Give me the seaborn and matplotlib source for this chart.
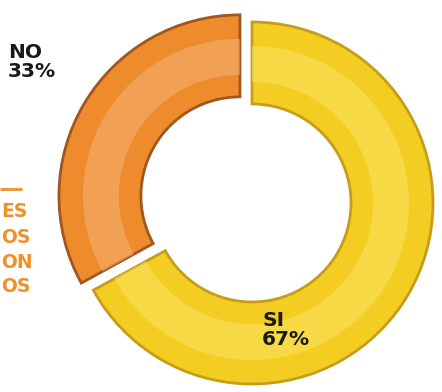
import matplotlib
matplotlib.use("Agg")
import matplotlib.pyplot as plt
import seaborn as sns

categories = ["SI", "NO"]
values = [67, 33]
labels = ["SI\n67%", "NO\n33%"]
side_text = ["ES", "OS", "ON", "OS"]

sns.set_theme(style="white")
plt.rcParams['font.family'] = ['DejaVu Sans']

colors = ["#F4CD22", "#EE8B2D"]
edges = ["#C59D18", "#A0561F"]

fig = plt.figure(figsize=(4.42, 3.92), dpi=100)
ax = fig.add_axes([0, 0, 1, 1])

cx, cy, R = 252, 189, 181
width = 82
expl = 14
wedges, _ = ax.pie(values, colors=colors, startangle=90, counterclock=False,
                   explode=[0, expl], center=(cx, cy), radius=R,
                   wedgeprops=dict(width=width, linewidth=2))
for w, e in zip(wedges, edges):
    w.set_edgecolor(e)
# highlight band for a soft 3D look
hl = ["#FBE66A", "#F7B57A"]
ax.pie(values, colors=hl, startangle=90, counterclock=False,
       explode=[0, expl], center=(cx, cy), radius=R - 24,
       wedgeprops=dict(width=width - 46, linewidth=0, alpha=0.5))
ax.set_xlim(0, 442)
ax.set_ylim(0, 392)
ax.set_aspect('equal')
ax.axis('off')

ax.text(262, 392 - 311, labels[0], fontsize=14.5, fontweight='bold', color='#1a1a1a',
        ha='left', va='top', linespacing=1.0)
ax.text(8, 392 - 43, labels[1], fontsize=14.5, fontweight='bold', color='#1a1a1a',
        ha='left', va='top', linespacing=1.0)

ax.plot([0, 22], [392 - 189, 392 - 189], color='#F0902A', lw=2, solid_capstyle='butt')
ys = [211, 237, 262, 287]
for t, y in zip(side_text, ys):
    ax.text(1, 392 - y, t, fontsize=13.5, fontweight='bold', color='#F0902A',
            ha='left', va='center')

fig.savefig("out.png", dpi=100)
